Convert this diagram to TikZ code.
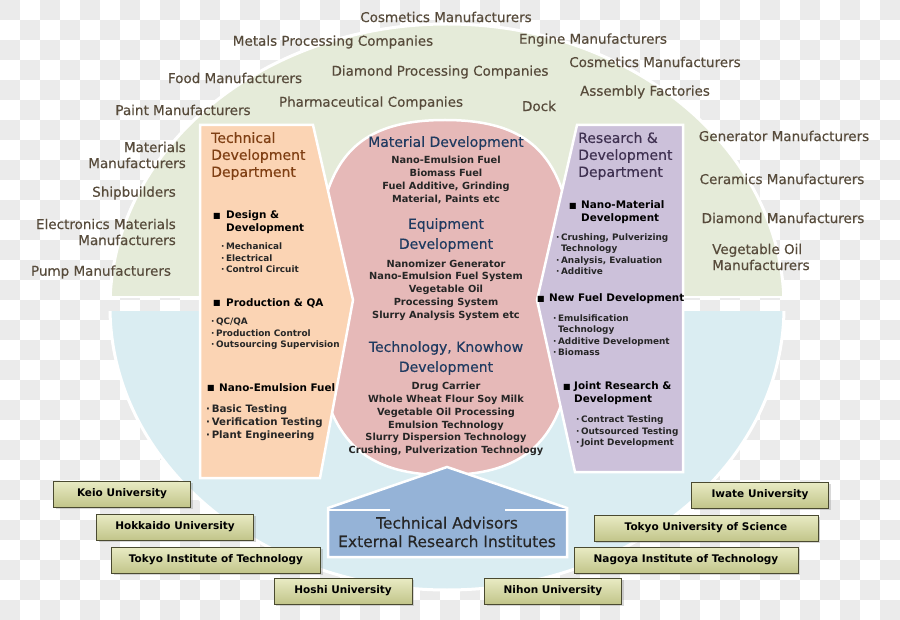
\documentclass[tikz,border=0pt]{standalone}
\usepackage{fontspec}
\setmainfont{DejaVu Sans}
\newfontfamily\semib[FakeBold=0.4]{DejaVu Sans}
\usetikzlibrary{shadows}

\definecolor{scacco}{HTML}{EBEBEB}
\definecolor{verde}{HTML}{E5EBD9}
\definecolor{azzurro}{HTML}{DAEDF2}
\definecolor{arancio}{HTML}{FBD4B4}
\definecolor{rosa}{HTML}{E6B9B8}
\definecolor{lilla}{HTML}{CCC1DA}
\definecolor{tetto}{HTML}{95B3D7}
\definecolor{etichetta}{HTML}{574B3B}
\definecolor{marrone}{HTML}{7F3F13}
\definecolor{blunotte}{HTML}{1F3A60}
\definecolor{viola}{HTML}{3F3151}
\definecolor{testo}{HTML}{262626}
\definecolor{unichiaro}{HTML}{E9EBC4}
\definecolor{uniscuro}{HTML}{C2C58A}
\definecolor{unibordo}{HTML}{4A4A30}

\tikzset{
  lbl/.style={text=etichetta, inner sep=0pt, font=\semib\fontsize{13.5}{16}\selectfont},
  titolo/.style={inner sep=0pt, anchor=west, align=left, font=\semib\fontsize{14}{17}\selectfont},
  sezione/.style={inner sep=0pt, align=center, text=blunotte, font=\semib\fontsize{14}{20}\selectfont},
  voci/.style={inner sep=0pt, align=center, text=testo, font=\bfseries\fontsize{9.8}{12.8}\selectfont},
  quad/.style={inner sep=0pt, text=black, font=\fontsize{8}{9}\selectfont},
  capo/.style={inner sep=0pt, anchor=west, align=left, text=black, font=\bfseries\fontsize{10.4}{13}\selectfont},
  punti/.style={inner sep=0pt, anchor=west, align=left, text=testo, font=\bfseries\fontsize{8.9}{11.5}\selectfont},
  uni/.style={draw=unibordo, line width=1pt, top color=unichiaro, bottom color=uniscuro,
    minimum height=26pt, inner sep=0pt, text=black, font=\bfseries\fontsize{10.5}{12}\selectfont,
    drop shadow={shadow xshift=2pt, shadow yshift=-2pt, opacity=0.3}},
  bordo/.style={draw=white, line width=2.5pt}
}

\begin{document}
\begin{tikzpicture}[x=1pt,y=-1pt]
    \useasboundingbox (0,0) rectangle (900,620);

    % Sfondo a scacchi
    \fill[white] (0,0) rectangle (900,620);
    \foreach \i in {0,40,...,880} {
        \foreach \j in {0,40,...,600} {
            \fill[scacco] (\i,\j) rectangle ++(20,20);
            \fill[scacco] (\i+20,\j+20) rectangle ++(20,20);
        }
    }

    % Semicerchio superiore (clienti)
    \begin{scope}
        \clip (0,0) rectangle (900,297);
        \fill[verde] (447,307) ellipse [x radius=337pt, y radius=283pt];
        \draw[white, line width=3pt] (447,307) ellipse [x radius=337pt, y radius=283pt];
    \end{scope}
    \draw[white, line width=2pt] (110,297) -- (784,297);

    % Semicerchio inferiore (universita)
    \begin{scope}
        \clip (0,312) rectangle (900,620);
        \fill[azzurro] (447,307) ellipse [x radius=337pt, y radius=283pt];
        \draw[white, line width=3pt] (447,307) ellipse [x radius=337pt, y radius=283pt];
    \end{scope}

    % Forme centrali
    \filldraw[rosa, bordo] (445,120) .. controls (545,120) and (575,170) .. (575,297)
        .. controls (575,420) and (545,475) .. (445,475)
        .. controls (345,475) and (315,420) .. (315,297)
        .. controls (315,170) and (345,120) .. (445,120) -- cycle;
    \filldraw[arancio, bordo] (200,125) -- (313,125) -- (353,300) -- (320,478) -- (200,478) -- cycle;
    \filldraw[lilla, bordo] (577,125) -- (683,125) -- (683,472) -- (575,472) -- (537,300) -- cycle;
    \filldraw[tetto, bordo] (447,467) -- (567,508) -- (567,557) -- (328,557) -- (328,508) -- cycle;
    \draw[white, line width=2pt] (328,510) -- (390,510);
    \draw[white, line width=2pt] (505,510) -- (567,510);

    % Clienti
    \node[lbl] (cosm1) at (446,17) {Cosmetics Manufacturers};
    \node[lbl] (metals) at (333,42) {Metals Processing Companies};
    \node[lbl] (engine) at (593,40) {Engine Manufacturers};
    \node[lbl] (food) at (235,78) {Food Manufacturers};
    \node[lbl] (diamproc) at (440,72) {Diamond Processing Companies};
    \node[lbl] (cosm2) at (655,62) {Cosmetics Manufacturers};
    \node[lbl] (paint) at (183,110) {Paint Manufacturers};
    \node[lbl] (pharma) at (371,103) {Pharmaceutical Companies};
    \node[lbl] (dock) at (539,106) {Dock};
    \node[lbl] (assembly) at (645,92) {Assembly Factories};
    \node[lbl, anchor=east, align=right] (materials) at (186,155) {Materials\\Manufacturers};
    \node[lbl] (ship) at (134,193) {Shipbuilders};
    \node[lbl, anchor=east, align=right] (electro) at (176,232) {Electronics Materials\\Manufacturers};
    \node[lbl] (pump) at (101,272) {Pump Manufacturers};
    \node[lbl] (generator) at (784,136) {Generator Manufacturers};
    \node[lbl] (ceramics) at (782,179) {Ceramics Manufacturers};
    \node[lbl] (diamond) at (783,218) {Diamond Manufacturers};
    \node[lbl, anchor=west, align=left] (vegoil) at (712,257) {Vegetable Oil\\Manufacturers};

    % Technical Development Department
    \node[titolo, text=marrone] (tdd) at (211,156) {Technical\\Development\\Department};
    \node[quad] (q1) at (217,216) {■};
    \node[capo] (design) at (226,222) {Design \&\\Development};
    \node[punti] (mech) at (221,258) {·\,Mechanical\\·\,Electrical\\·\,Control Circuit};
    \node[quad] (q2) at (217,303) {■};
    \node[capo] (prod) at (226,303) {Production \& QA};
    \node[punti] (qc) at (211,334) {·\,QC/QA\\·\,Production Control\\·\,Outsourcing Supervision};
    \node[quad] (q3) at (211,388) {■};
    \node[capo] (nanofuel) at (219,388) {Nano-Emulsion Fuel};
    \node[punti, font=\bfseries\fontsize{10.2}{13}\selectfont] (basic) at (206,423) {·\,Basic Testing\\·\,Verification Testing\\·\,Plant Engineering};

    % Sviluppo (centro)
    \node[sezione] (matdev) at (446,143) {Material Development};
    \node[voci] (matitems) at (446,180) {Nano-Emulsion Fuel\\Biomass Fuel\\Fuel Additive, Grinding\\Material, Paints etc};
    \node[sezione] (eqdev) at (446,235) {Equipment\\Development};
    \node[voci] (eqitems) at (446,290) {Nanomizer Generator\\Nano-Emulsion Fuel System\\Vegetable Oil\\Processing System\\Slurry Analysis System etc};
    \node[sezione] (techdev) at (446,358) {Technology, Knowhow\\Development};
    \node[voci] (techitems) at (446,419) {Drug Carrier\\Whole Wheat Flour Soy Milk\\Vegetable Oil Processing\\Emulsion Technology\\Slurry Dispersion Technology\\Crushing, Pulverization Technology};

    % Research & Development Department
    \node[titolo, text=viola] (rdd) at (578,156) {Research \&\\Development\\Department};
    \node[quad] (q4) at (573,206) {■};
    \node[capo] (nanomat) at (581,212) {Nano-Material\\Development};
    \node[punti] (crush) at (556,254) {·\,Crushing, Pulverizing\\\phantom{·\,}Technology\\·\,Analysis, Evaluation\\·\,Additive};
    \node[quad] (q5) at (541,299) {■};
    \node[capo] (newfuel) at (549,299) {New Fuel Development};
    \node[punti] (emul) at (553,335) {·\,Emulsification\\\phantom{·\,}Technology\\·\,Additive Development\\·\,Biomass};
    \node[quad] (q6) at (567,387) {■};
    \node[capo] (joint) at (574,393) {Joint Research \&\\Development};
    \node[punti] (contract) at (576,432) {·\,Contract Testing\\·\,Outsourced Testing\\·\,Joint Development};

    % Consulenti esterni
    \node[inner sep=0pt, align=center, text=testo, font=\semib\fontsize{15.5}{18.5}\selectfont] (advisors) at (447,532) {Technical Advisors\\External Research Institutes};

    % Universita
    \node[uni, minimum width=137pt] (keio) at (122,494) {Keio University};
    \node[uni, minimum width=157pt] (hokkaido) at (175,527) {Hokkaido University};
    \node[uni, minimum width=209pt] (titech) at (216,560) {Tokyo Institute of Technology};
    \node[uni, minimum width=138pt] (hoshi) at (343,591) {Hoshi University};
    \node[uni, minimum width=137pt] (iwate) at (760,495) {Iwate University};
    \node[uni, minimum width=224pt] (tus) at (706,528) {Tokyo University of Science};
    \node[uni, minimum width=224pt] (nitech) at (686,560) {Nagoya Institute of Technology};
    \node[uni, minimum width=137pt] (nihon) at (553,591) {Nihon University};
\end{tikzpicture}
\end{document}
